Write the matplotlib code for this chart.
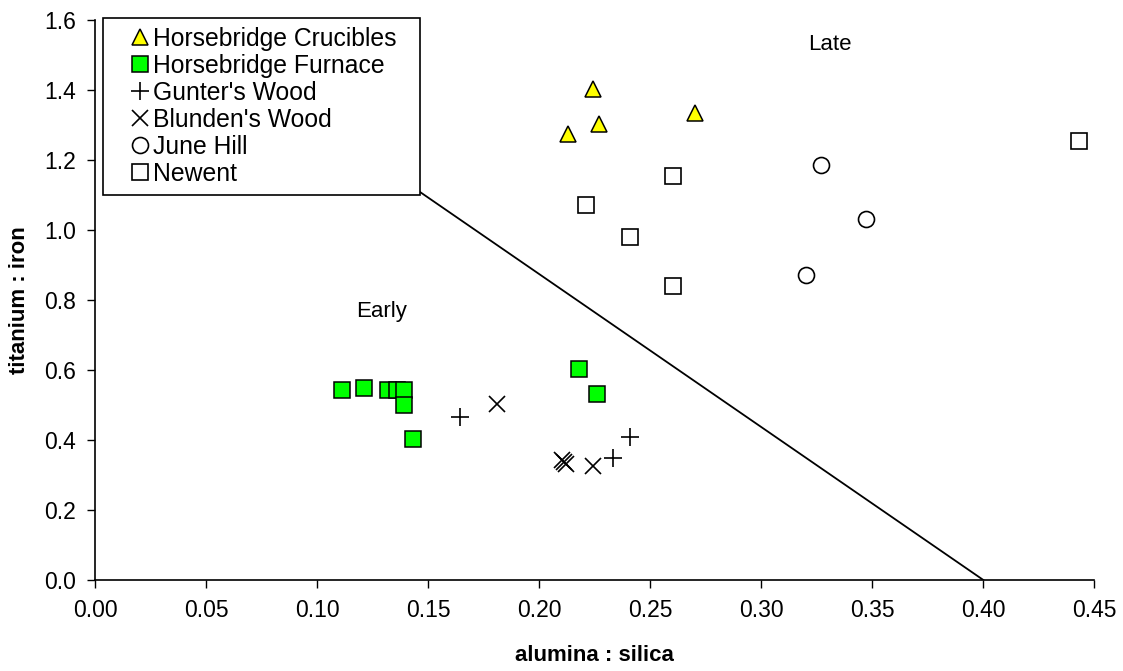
import matplotlib.pyplot as plt
from matplotlib.patches import Rectangle
from matplotlib.ticker import FormatStrFormatter, MultipleLocator

plt.rcParams['font.family'] = ['Liberation Sans', 'DejaVu Sans']

# alumina : silica (x) and titanium : iron (y) ratios per site
crucibles_x = [0.224, 0.227, 0.213, 0.270]
crucibles_y = [1.403, 1.303, 1.276, 1.336]

furnace_x = [0.111, 0.121, 0.132, 0.136, 0.139, 0.139, 0.143, 0.218, 0.226]
furnace_y = [0.543, 0.549, 0.543, 0.543, 0.543, 0.501, 0.403, 0.604, 0.533]

gunters_x = [0.164, 0.241, 0.233]
gunters_y = [0.467, 0.409, 0.349]

blundens_x = [0.181, 0.210, 0.211, 0.212, 0.224]
blundens_y = [0.502, 0.343, 0.336, 0.331, 0.327]

june_x = [0.327, 0.347, 0.320]
june_y = [1.187, 1.032, 0.873]

newent_x = [0.260, 0.221, 0.241, 0.260, 0.443]
newent_y = [1.154, 1.071, 0.979, 0.840, 1.255]

# dividing line between early and late groups (upper end runs under the legend)
divide_x = [0.14, 0.40]
divide_y = [1.136, 0.0]

W, H = 1123, 671
fig = plt.figure(figsize=(W / 100, H / 100), dpi=100)
ax = fig.add_axes([0.085, 0.1356, 0.8895, 0.8344])

ax.plot(divide_x, divide_y, color='black', lw=1.3, zorder=1)

ms = 11.5
ax.plot(crucibles_x, crucibles_y, ls='none', marker='^', ms=ms, mfc='#ffff00', mec='black', mew=1.1,
        label='Horsebridge Crucibles', zorder=3)
ax.plot(furnace_x, furnace_y, ls='none', marker='s', ms=ms, mfc='#00ff00', mec='black', mew=1.1,
        label='Horsebridge Furnace', zorder=3)
ax.plot(gunters_x, gunters_y, ls='none', marker='+', ms=13, mec='black', mew=1.2,
        label="Gunter's Wood", zorder=3)
ax.plot(blundens_x, blundens_y, ls='none', marker='x', ms=12, mec='black', mew=1.2,
        label="Blunden's Wood", zorder=3)
ax.plot(june_x, june_y, ls='none', marker='o', ms=ms, mfc='white', mec='black', mew=1.2,
        label='June Hill', zorder=3)
ax.plot(newent_x, newent_y, ls='none', marker='s', ms=ms, mfc='white', mec='black', mew=1.2,
        label='Newent', zorder=3)

ax.text(0.331, 1.53, 'Late', fontsize=16, ha='center', va='center')
ax.text(0.129, 0.766, 'Early', fontsize=16, ha='center', va='center')

ax.set_xlim(0, 0.45)
ax.set_ylim(0, 1.6)
ax.xaxis.set_major_locator(MultipleLocator(0.05))
ax.yaxis.set_major_locator(MultipleLocator(0.2))
ax.xaxis.set_major_formatter(FormatStrFormatter('%.2f'))
ax.yaxis.set_major_formatter(FormatStrFormatter('%.1f'))
ax.tick_params(direction='out', length=6, width=1, labelsize=16.5, pad=8)
for side in ['top', 'right']:
    ax.spines[side].set_visible(False)
for side in ['left', 'bottom']:
    ax.spines[side].set_linewidth(1.2)

ax.set_xlabel('alumina : silica', fontsize=16, fontweight='bold', labelpad=16)
ax.set_ylabel('titanium : iron', fontsize=16, fontweight='bold', labelpad=10)

# legend box drawn separately so the padding around the entries can be set freely
box = Rectangle((103 / W, 1 - 195 / H), 317 / W, 177 / H, transform=fig.transFigure,
                facecolor='white', edgecolor='black', lw=1.2, zorder=4, clip_on=False)
ax.add_patch(box)

leg = ax.legend(loc='upper left', bbox_to_anchor=(130 / W, 1 - 27 / H), bbox_transform=fig.transFigure,
                fontsize=17.8, frameon=False, borderpad=0, labelspacing=0.12,
                handletextpad=0.13, handlelength=0.8, borderaxespad=0)
leg.set_zorder(5)

fig.savefig('out.png', dpi=100)
